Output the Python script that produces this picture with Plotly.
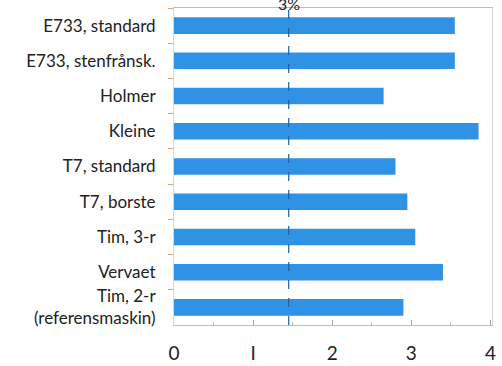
import plotly.graph_objects as go

machines = [
    "E733, standard",
    "E733, stenfrånsk.",
    "Holmer",
    "Kleine",
    "T7, standard",
    "T7, borste",
    "Tim, 3-r",
    "Vervaet",
    "Tim, 2-r<br>(referensmaskin)",
]
values = [3.55, 3.55, 2.65, 3.85, 2.80, 2.95, 3.05, 3.40, 2.90]
ref_line = 1.45
ref_label = "3%"
x_ticks = [0, 1, 2, 3, 4]
x_tick_text = ["0", "I", "2", "3", "4"]

font_family = "Lato, 'Open Sans', sans-serif"

fig = go.Figure()
fig.add_trace(go.Bar(
    x=values,
    y=machines,
    orientation="h",
    width=0.47,
    marker=dict(color="#2f92e4", line=dict(width=0)),
    hoverinfo="x+y",
))

fig.add_shape(
    type="line", xref="x", yref="paper",
    x0=ref_line, x1=ref_line, y0=0, y1=1,
    line=dict(color="#1f5f9f", width=1.2, dash="dash"),
    layer="above",
)
fig.add_annotation(
    x=ref_line, xref="x", y=1, yref="paper",
    text=ref_label, showarrow=False,
    yanchor="bottom", yshift=-7,
    font=dict(family=font_family, size=16, color="#222"),
)

fig.update_layout(
    width=502, height=366,
    margin=dict(l=174, r=10, t=8, b=41),
    paper_bgcolor="white", plot_bgcolor="white",
    showlegend=False,
    bargap=0.5,
    font=dict(family=font_family, size=17, color="#2a2a2a"),
)
fig.update_xaxes(
    range=[0, 4.02],
    automargin=False,
    tickvals=x_ticks, ticktext=x_tick_text,
    ticks="inside", ticklen=5, tickcolor="#b0a090",
    minor=dict(dtick=0.5, ticks="inside", ticklen=3, tickcolor="#c8b8a8"),
    showgrid=False, zeroline=False,
    showline=True, linecolor="#bdbdbd", linewidth=1, mirror=True,
    ticklabelstandoff=11,
    tickfont=dict(size=19, color="#222"),
)
fig.update_yaxes(
    autorange="reversed",
    automargin=False,
    categoryorder="array", categoryarray=machines,
    ticks="outside", ticklen=5, tickcolor="#c8a888",
    tickson="boundaries",
    showgrid=False, zeroline=False,
    showline=True, linecolor="#d8d8d8", linewidth=1, mirror=True,
    ticklabelstandoff=14,
    tickfont=dict(size=17, color="#222"),
)

fig.write_html("out.html")
